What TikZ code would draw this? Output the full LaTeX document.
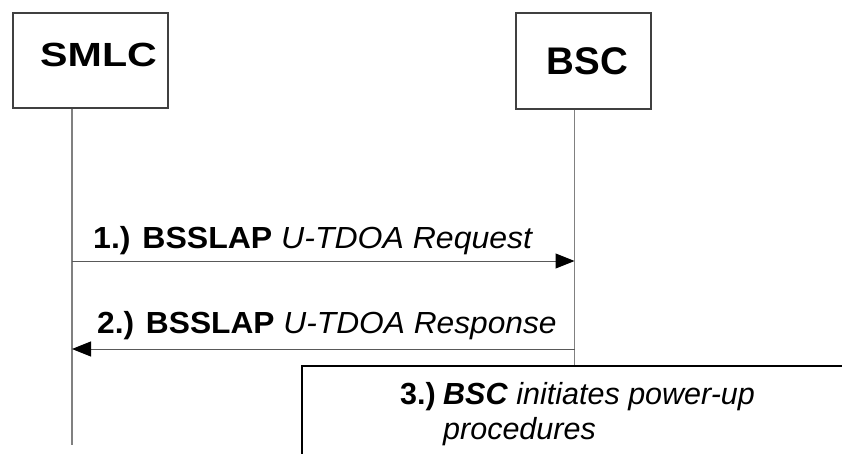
\documentclass[tikz,border=0pt]{standalone}
\usepackage{fontspec}
\setmainfont{Liberation Sans}
\usetikzlibrary{arrows.meta}
\begin{document}
\begin{tikzpicture}[x=1pt,y=-1pt,
  entity/.style={draw=black!75, line width=1.1pt, fill=white, inner sep=0pt},
  life/.style={draw=black!50, line width=1.2pt},
  msg/.style={draw=black!65, line width=1pt, -{Triangle[length=19pt,width=15pt,color=black]}},
  lbl/.style={inner sep=0pt, anchor=base west, text=black},
  big/.style={font=\fontsize{30.5}{36}\selectfont},
  hdr/.style={inner sep=0pt, anchor=base west, text=black},
  procbox/.style={draw=black, line width=1.6pt, fill=white, inner sep=0pt}]
\useasboundingbox (0,0) rectangle (842,454);
\fill[white] (0,0) rectangle (842,454);
% entities
\node[entity, minimum width=155pt, minimum height=95pt] (smlc) at (90.5,60.5) {};
\node[entity, minimum width=135pt, minimum height=96pt] (bsc) at (583.5,61) {};
\node[hdr, font=\fontsize{33.5}{38}\selectfont\bfseries] (smlct) at (40,66.2) {\scalebox{1.23}[1]{SMLC}};
\node[hdr, font=\fontsize{38.5}{44}\selectfont\bfseries] (bsct) at (546.5,74.3) {BSC};
% lifeline coordinates
\coordinate (smlcEnd) at (72,445);
\coordinate (bscX) at (574.5,0);
% procedure box
\node[procbox, minimum width=580pt, minimum height=130pt, anchor=north west] (proc) at (301,365) {};
% lifelines
\draw[life] (smlc.south -| smlcEnd) -- (smlcEnd);
\draw[life] (bsc.south -| bscX) -- (proc.north -| bscX);
% messages
\coordinate (m1s) at (72,261);
\coordinate (m2s) at (72,349);
\draw[msg] (m1s) -- (m1s -| bscX);
\draw[msg] (m2s -| bscX) -- (m2s);
\node[lbl, big] (t1) at (93,248.5) {\scalebox{1.05}[1]{\textbf{1.) BSSLAP} \textit{U-TDOA Request}}};
\node[lbl, big] (t2) at (97,333.5) {\scalebox{1.04}[1]{\textbf{2.) BSSLAP} \textit{U-TDOA Response}}};
% procedure text
\node[lbl, big] (p3n) at (400,404.5) {\textbf{3.)}};
\node[lbl, big] (p3a) at (443,404.5) {\textbf{\textit{BSC}} \textit{initiates power-up}};
\node[lbl, big] (p3b) at (443,439.5) {\textit{procedures}};
\end{tikzpicture}
\end{document}
